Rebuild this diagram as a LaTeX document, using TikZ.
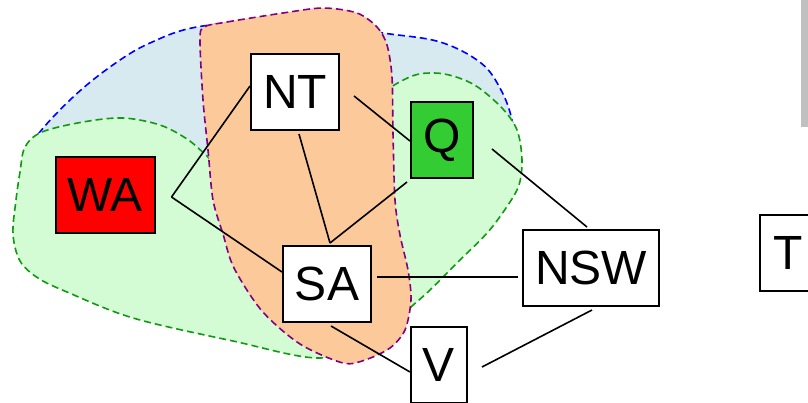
\documentclass[tikz,border=0pt]{standalone}
\usepackage{fontspec}
\setmainfont{Liberation Sans}
\definecolor{bluefill}{HTML}{D6EAEF}
\definecolor{greenfill}{HTML}{D4FCD4}
\definecolor{orangefill}{HTML}{FCCA9A}
\definecolor{greenline}{HTML}{119911}
\definecolor{purpleline}{HTML}{800080}
\definecolor{qgreen}{HTML}{33CC33}
\definecolor{graybar}{HTML}{C0C0C0}
\begin{document}
\begin{tikzpicture}[x=1pt,y=-1pt,
  region/.style={line width=1.6pt, dash pattern=on 7pt off 4pt},
  statebox/.style={draw, line width=2pt, minimum height=76pt, inner sep=0pt,
     font=\fontsize{48}{48}\selectfont},
  edge/.style={line width=1.6pt}]
\useasboundingbox (0,0) rectangle (808,402);
\clip (0,0) rectangle (808,402);
% gray bar
\fill[graybar] (801,0) rectangle (815,127);
% blue region
\draw[region, draw=blue, fill=bluefill] plot[smooth cycle, tension=0.6] coordinates {
 (203,26) (300,21) (383,33) (440,42) (481,63) (501,90) (512,120) (514,150)
 (500,190) (460,240) (400,300) (330,335) (200,320) (70,292) (28,245) (20,205)
 (24,170) (34,140) (70,100) (110,67) (150,43)};
% green region
\draw[region, draw=greenline, fill=greenfill] plot[smooth cycle, tension=0.55] coordinates {
 (25,147) (42,132) (83,122) (123,118) (160,125) (187,139) (206,155)
 (230,175) (300,150) (396,84)
 (434,73) (471,83) (501,107) (517,130) (522,160) (519,185) (508,205)
 (488,232) (460,260) (430,290) (412,306) (375,338) (320,358)
 (233,341) (133,318) (67,292) (38,278) (20,261) (13,234) (16,200) (20,172)};
% orange region
\draw[region, draw=purpleline, fill=orangefill] plot[smooth cycle, tension=0.5] coordinates {
 (204,27) (227,22) (283,13) (323,8) (357,13) (377,27) (387,45) (392,77)
 (393,133) (395,200) (400,235) (408,270) (411,300) (405,330) (390,348)
 (365,360) (343,363) (300,344) (262,311) (234,268) (223,234) (213,200)
 (208,150) (203,100) (200,40)};
% nodes
\node[statebox, minimum width=88pt, fill=white] (NT) at (295,92) {NT};
\node[statebox, minimum width=99pt, fill=red] (WA) at (105,195) {WA};
\node[statebox, minimum width=62pt, fill=qgreen] (Q) at (442,140) {Q};
\node[statebox, minimum width=88pt, fill=white] (SA) at (327,284) {SA};
\node[statebox, minimum width=136pt, fill=white] (NSW) at (591,268) {NSW};
\node[statebox, minimum width=56pt, fill=white] (V) at (439,365) {V};
\node[statebox, minimum width=56pt, fill=white] (T) at (788,252.5) {T};
% edges
\coordinate (wa) at ([shift={(16,2)}]WA.east);
\draw[edge] (wa) -- ([shift={(0,-6)}]NT.west);
\draw[edge] (wa) -- ([shift={(0,-12)}]SA.west);
\draw[edge] ([shift={(14,4)}]NT.east) -- ([shift={(0,1)}]Q.west);
\draw[edge] ([shift={(4,3)}]NT.south) -- ([shift={(3,-2)}]SA.north);
\draw[edge] ([shift={(-3,3)}]Q.south west) -- ([shift={(3,-2)}]SA.north);
\draw[edge] ([shift={(18,9)}]Q.east) -- ([shift={(-4,-2)}]NSW.north);
\draw[edge] ([shift={(5,-7)}]SA.east) -- ([shift={(-4,9)}]NSW.west);
\draw[edge] ([shift={(4,3)}]SA.south) -- ([shift={(0,7)}]V.west);
\draw[edge] ([shift={(1,3)}]NSW.south) -- ([shift={(14,2)}]V.east);
\end{tikzpicture}
\end{document}
